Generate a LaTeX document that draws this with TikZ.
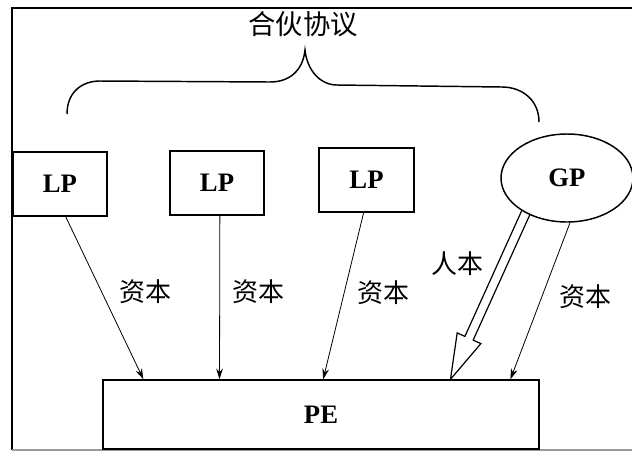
\documentclass[tikz,border=0pt]{standalone}
\usepackage{fontspec}
\setmainfont{Liberation Serif}
\newfontfamily\cjk{Noto Sans CJK SC}
\usetikzlibrary{calc,arrows.meta,shapes.geometric}
\begin{document}
\begin{tikzpicture}[x=0.75pt,y=-0.75pt,
  box/.style={draw,line width=1.1pt,inner sep=0pt,font=\bfseries\fontsize{20}{22}\selectfont},
  lbl/.style={font=\cjk\fontsize{19.5}{21}\selectfont,inner sep=0pt},
  arr/.style={line width=0.6pt,-{Stealth[length=8pt,width=5pt]}}]
\useasboundingbox (0,0) rectangle (632,451);
% frame
\draw[line width=1pt] (12,450) -- (12,8) -- (632,8);
\draw[line width=1.2pt,black!40] (12,450) -- (632,450);
% title and brace
\node[font=\cjk\fontsize{20.5}{22}\selectfont,inner sep=0pt] (title) at (303,24) {合伙协议};
\draw[line width=1.1pt] (67,114) .. controls (67,92) and (82,81) .. (100,81) -- (270,82)
  .. controls (290,82) and (303,70) .. (305,50)
  .. controls (307,70) and (320,85) .. (337,85) -- (502,87)
  .. controls (522,87) and (539,100) .. (539,122);
% nodes
\node[box,minimum width=70.5pt,minimum height=48pt] (LP1) at (60,184) {LP};
\node[box,minimum width=70.5pt,minimum height=48pt] (LP2) at (217,183) {LP};
\node[box,minimum width=71pt,minimum height=48pt] (LP3) at (366.5,180) {LP};
\node[box,minimum width=327pt,minimum height=51.75pt] (PE) at (321,414.5) {PE};
\coordinate (GPc) at (567,178);
% hollow arrow (human capital)
\coordinate (hs) at ($(GPc)+(-40,32)$);
\coordinate (ht) at ($(PE.north west)!0.796!(PE.north east)$);
\coordinate (hb) at ($(ht)!33.75pt!(hs)$);
\draw[line width=0.9pt,fill=white,line join=miter]
  ($(hs)!3.4pt!90:(ht)$) -- ($(hb)!3.4pt!-90:(hs)$) -- ($(hb)!9.75pt!-90:(hs)$) -- (ht)
  -- ($(hb)!9.75pt!90:(hs)$) -- ($(hb)!3.4pt!90:(hs)$) -- ($(hs)!3.4pt!-90:(ht)$);
\node[box,ellipse,fill=white,minimum width=99pt,minimum height=66pt] (GP) at (GPc) {GP};
% capital arrows
\draw[arr] ($(LP1.south west)!0.56!(LP1.south east)$) -- ($(PE.north west)!0.094!(PE.north east)$);
\draw[arr] ($(LP2.south west)!0.53!(LP2.south east)$) -- ($(PE.north west)!0.268!(PE.north east)$);
\draw[arr] ($(LP3.south west)!0.47!(LP3.south east)$) -- ($(PE.north west)!0.505!(PE.north east)$);
\draw[arr] ($(GP.south)+(3,0)$) -- ($(PE.north west)!0.933!(PE.north east)$);
% labels
\node[lbl] (c1) at (145,292) {资本};
\node[lbl] (c2) at (258,292) {资本};
\node[lbl] (c3) at (383,293) {资本};
\node[lbl] (c4) at (585,297) {资本};
\node[lbl] (h1) at (457,264) {人本};
\end{tikzpicture}
\end{document}
